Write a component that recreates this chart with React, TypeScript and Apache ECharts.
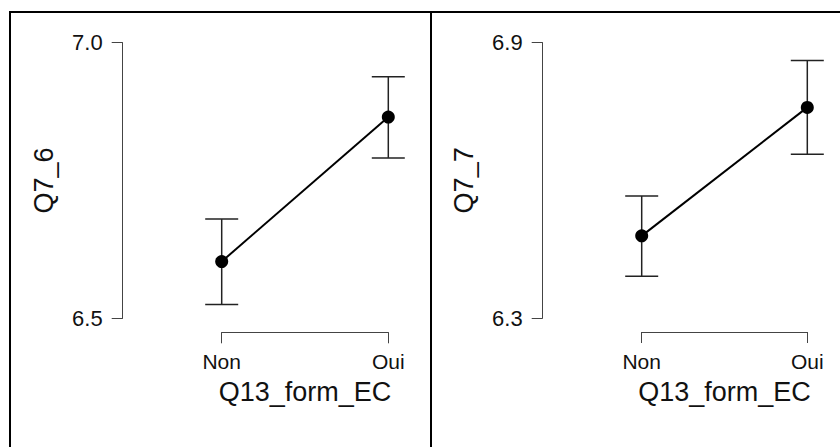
import React, { useEffect, useRef } from "react";
import * as echarts from "echarts";

const categories = ["Non", "Oui"];

const q76Mean = [6.603, 6.865];
const q76Low = [6.525, 6.791];
const q76High = [6.68, 6.938];
const q76Ticks = [6.5, 7.0];

const q77Mean = [6.479, 6.759];
const q77Low = [6.391, 6.657];
const q77High = [6.566, 6.861];
const q77Ticks = [6.3, 6.9];

const xTitle = "Q13_form_EC";
const yTitles = ["Q7_6", "Q7_7"];

const FONT = "'Liberation Sans', Arial, sans-serif";
const TEXT = "#111";
const AXIS = "#444";

function errorBarSeries(low: number[], high: number[], idx: number) {
  const data = categories.map((_, i) => [i, low[i], high[i]]);
  return {
    type: "custom",
    xAxisIndex: idx,
    yAxisIndex: idx,
    data,
    silent: true,
    z: 2,
    renderItem: (params: any, api: any) => {
      const x = api.value(0);
      const lo = api.coord([x, api.value(1)]);
      const hi = api.coord([x, api.value(2)]);
      const hw = 16.5;
      const style = { stroke: "#222", lineWidth: 1.5 };
      return {
        type: "group",
        children: [
          { type: "line", shape: { x1: lo[0], y1: lo[1], x2: hi[0], y2: hi[1] }, style },
          { type: "line", shape: { x1: lo[0] - hw, y1: lo[1], x2: lo[0] + hw, y2: lo[1] }, style },
          { type: "line", shape: { x1: hi[0] - hw, y1: hi[1], x2: hi[0] + hw, y2: hi[1] }, style },
        ],
      };
    },
  };
}

function meanSeries(mean: number[], idx: number) {
  return {
    type: "line",
    xAxisIndex: idx,
    yAxisIndex: idx,
    data: mean,
    symbol: "circle",
    symbolSize: 13,
    itemStyle: { color: "#000" },
    lineStyle: { color: "#000", width: 2 },
    z: 3,
  };
}

function xAxisOpt(idx: number) {
  return {
    type: "category",
    gridIndex: idx,
    data: categories,
    boundaryGap: false,
    offset: 14,
    axisLine: { show: true, lineStyle: { color: AXIS, width: 1 } },
    axisTick: { show: true, inside: false, length: 11, lineStyle: { color: AXIS, width: 1 } },
    axisLabel: { show: true, margin: 19, fontSize: 21, color: TEXT, fontFamily: FONT },
    splitLine: { show: false },
    name: xTitle,
    nameLocation: "middle",
    nameGap: 46,
    nameTextStyle: { fontSize: 27, color: TEXT, fontFamily: FONT },
  };
}

function yAxisOpt(idx: number, ticks: number[]) {
  return {
    type: "value",
    gridIndex: idx,
    min: ticks[0],
    max: ticks[ticks.length - 1],
    offset: 99,
    axisLine: { show: true, lineStyle: { color: AXIS, width: 1 } },
    axisTick: { show: true, inside: false, length: 11, customValues: ticks, lineStyle: { color: AXIS, width: 1 } },
    axisLabel: {
      show: true,
      margin: 20,
      fontSize: 22,
      color: TEXT,
      fontFamily: FONT,
      customValues: ticks,
      formatter: (v: number) => v.toFixed(1),
    },
    splitLine: { show: false },
    name: yTitles[idx],
    nameLocation: "middle",
    nameGap: 65,
    nameRotate: 90,
    nameTextStyle: { fontSize: 27, color: TEXT, fontFamily: FONT },
  };
}

export default function App() {
  const ref = useRef<HTMLDivElement>(null);
  useEffect(() => {
    if (!ref.current) return;
    const chart = echarts.init(ref.current, undefined, { renderer: "svg" });
    const border = { stroke: "#000", lineWidth: 2 };
    chart.setOption({
      animation: false,
      backgroundColor: "#fff",
      textStyle: { fontFamily: FONT },
      grid: [
        { left: 221.7, right: 451.7, top: 42.7, bottom: 128.7 },
        { left: 641.7, right: 32.7, top: 42.7, bottom: 129 },
      ],
      xAxis: [xAxisOpt(0), xAxisOpt(1)],
      yAxis: [yAxisOpt(0, q76Ticks), yAxisOpt(1, q77Ticks)],
      series: [
        errorBarSeries(q76Low, q76High, 0),
        meanSeries(q76Mean, 0),
        errorBarSeries(q77Low, q77High, 1),
        meanSeries(q77Mean, 1),
      ],
      graphic: [
        { type: "line", shape: { x1: 9, y1: 12, x2: 840, y2: 12 }, style: border, silent: true },
        { type: "line", shape: { x1: 10, y1: 11, x2: 10, y2: 447 }, style: border, silent: true },
        { type: "line", shape: { x1: 431, y1: 11, x2: 431, y2: 447 }, style: border, silent: true },
      ],
    });
    return () => chart.dispose();
  }, []);
  return (
    <div
      ref={ref}
      style={{ position: "fixed", left: 0, top: 0, width: 840, height: 447, background: "#fff" }}
    />
  );
}
